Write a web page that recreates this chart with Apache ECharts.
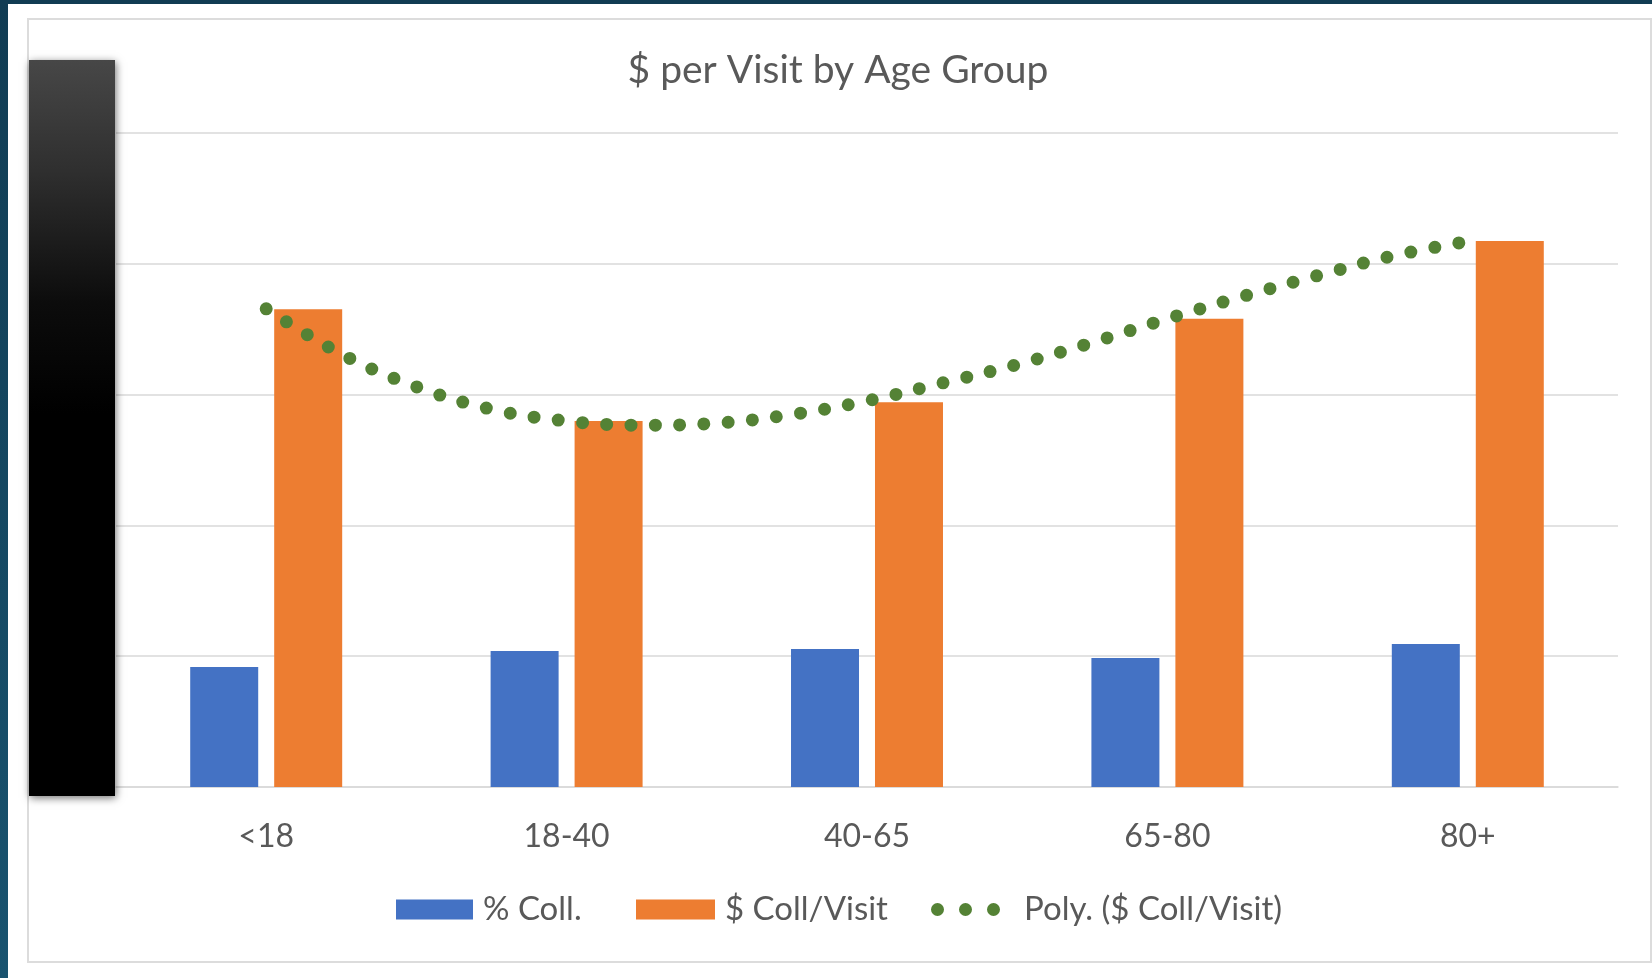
<!DOCTYPE html>
<html>
<head>
<meta charset="utf-8">
<title>$ per Visit by Age Group</title>
<script src="https://cdn.jsdelivr.net/npm/echarts@6/dist/echarts.min.js"></script>
<style>
  html, body { margin: 0; padding: 0; background: #ffffff; }
  #chart { width: 1652px; height: 978px; }
</style>
</head>
<body>
<div id="chart"></div>
<script>
// Age groups on the category axis
const categories = ['<18', '18-40', '40-65', '65-80', '80+'];

// Collection rate (%) per age group
const pctColl = [45.9, 52.0, 52.8, 49.3, 54.7];

// Dollars collected per visit
const collPerVisit = [182.6, 139.9, 147.1, 179.0, 208.7];

// Polynomial trend of $ Coll/Visit, sampled along the category positions (1 = first group)
const trendX = [1, 1.25, 1.5, 1.75, 2, 2.25, 2.5, 2.75, 3, 3.25, 3.5, 3.75, 4, 4.25, 4.5, 4.75, 5];
const trendY = [182.8, 165.5, 153.0, 144.4, 139.9, 138.3, 139.1, 142.4, 147.6, 154.4, 161.5, 169.9, 179.0, 187.5, 195.5, 203.0, 208.6];

// Value axis range (labels are covered by the side panel)
const yMin = 0, yMax = 250, yStep = 50;

const FONT = 'Lato, "Open Sans", sans-serif';
const TEXT = '#595959';
const GRID = '#d9d9d9';
const BLUE = '#4472C4';
const ORANGE = '#ED7D31';
const GREEN = '#548235';

// three round dots used as the trend line's legend key
const dotsIcon = 'path://M0,6.5a6.5,6.5 0 1,0 13,0a6.5,6.5 0 1,0 -13,0Z' +
  'M28,6.5a6.5,6.5 0 1,0 13,0a6.5,6.5 0 1,0 -13,0Z' +
  'M56,6.5a6.5,6.5 0 1,0 13,0a6.5,6.5 0 1,0 -13,0Z';

const chart = echarts.init(document.getElementById('chart'), null, { renderer: 'canvas' });

const legendText = { fontFamily: FONT, fontSize: 33, color: TEXT, padding: [0, 0, 0, 5] };

chart.setOption({
  animation: false,
  backgroundColor: '#ffffff',
  grid: { left: 116, right: 34, top: 133, bottom: 191, containLabel: false },
  xAxis: [
    {
      type: 'category',
      data: categories,
      boundaryGap: true,
      axisLine: { show: true, lineStyle: { color: GRID, width: 1.5 } },
      axisTick: { show: false },
      axisLabel: { fontFamily: FONT, fontSize: 32, color: TEXT, margin: 34 }
    },
    {
      type: 'value',
      min: 0.5,
      max: 5.5,
      show: false
    }
  ],
  yAxis: {
    type: 'value',
    min: yMin,
    max: yMax,
    interval: yStep,
    axisLine: { show: false },
    axisTick: { show: false },
    axisLabel: { show: false },
    splitLine: { lineStyle: { color: GRID, width: 1.5 } }
  },
  legend: [
    {
      data: ['% Coll.'],
      left: 396, top: 893, padding: 0,
      itemWidth: 77, itemHeight: 20, icon: 'rect',
      selectedMode: false,
      textStyle: legendText
    },
    {
      data: ['$ Coll/Visit'],
      left: 636, top: 893, padding: 0,
      itemWidth: 79, itemHeight: 20, icon: 'rect',
      selectedMode: false,
      textStyle: legendText
    },
    {
      data: [{ name: 'Poly. ($ Coll/Visit)', icon: dotsIcon, itemStyle: { color: GREEN, borderWidth: 0 } }],
      left: 931, top: 893, padding: 0,
      itemWidth: 69, itemHeight: 13,
      selectedMode: false,
      textStyle: { fontFamily: FONT, fontSize: 33, color: TEXT, padding: [0, 0, 0, 19] }
    }
  ],
  series: [
    {
      name: '% Coll.',
      type: 'bar',
      data: pctColl,
      barWidth: 68,
      barGap: '23.5%',
      itemStyle: { color: BLUE },
      silent: true
    },
    {
      name: '$ Coll/Visit',
      type: 'bar',
      data: collPerVisit,
      barWidth: 68,
      barGap: '23.5%',
      itemStyle: { color: ORANGE },
      silent: true
    },
    {
      name: 'Poly. ($ Coll/Visit)',
      type: 'line',
      xAxisIndex: 1,
      data: trendX.map((x, i) => [x, trendY[i]]),
      smooth: 0.4,
      symbol: 'none',
      itemStyle: { color: GREEN },
      lineStyle: { color: GREEN, width: 13, type: [0, 24.3], cap: 'round' },
      z: 5,
      silent: true
    }
  ],
  graphic: {
    elements: [
      // dark teal edges of the slide
      {
        type: 'rect', silent: true, z: 0,
        shape: { x: 0, y: 0, width: 1652, height: 4 },
        style: { fill: '#113c53' }
      },
      {
        type: 'rect', silent: true, z: 0,
        shape: { x: 0, y: 0, width: 8, height: 978 },
        style: {
          fill: new echarts.graphic.LinearGradient(0, 0, 0, 1, [
            { offset: 0, color: '#113c53' },
            { offset: 1, color: '#19536f' }
          ])
        }
      },
      // chart frame
      {
        type: 'rect', silent: true, z: 0,
        shape: { x: 28, y: 19, width: 1623, height: 943 },
        style: { fill: 'none', stroke: '#dcdcdc', lineWidth: 2 }
      },
      // dark side panel over the value axis
      {
        type: 'rect', silent: true, z: 100,
        shape: { x: 29, y: 60, width: 86, height: 736 },
        style: {
          fill: new echarts.graphic.LinearGradient(0, 0, 0, 1, [
            { offset: 0, color: '#474747' },
            { offset: 0.15, color: '#2f2f2f' },
            { offset: 0.33, color: '#0c0c0c' },
            { offset: 0.48, color: '#000000' },
            { offset: 1, color: '#000000' }
          ]),
          shadowBlur: 8,
          shadowColor: 'rgba(0,0,0,0.55)',
          shadowOffsetX: 1,
          shadowOffsetY: 2
        }
      },
      // chart title
      {
        type: 'text', silent: true, z: 100,
        x: 838, y: 70,
        style: {
          text: '$ per Visit by Age Group',
          font: '39px ' + FONT,
          fill: TEXT,
          align: 'center',
          verticalAlign: 'middle'
        }
      }
    ]
  }
});
</script>
</body>
</html>
